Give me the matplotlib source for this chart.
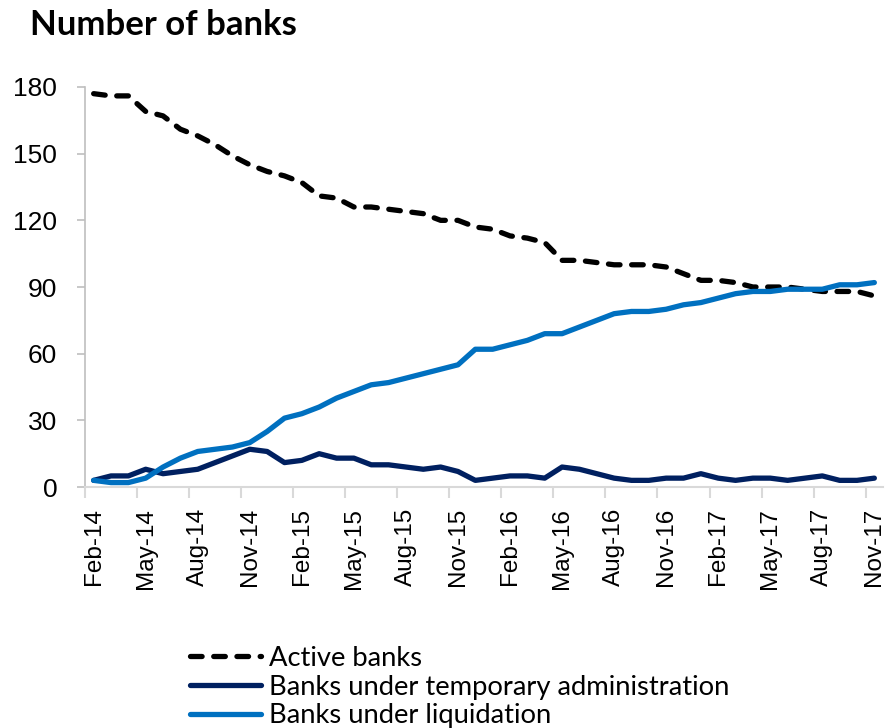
import matplotlib
matplotlib.use("Agg")
import matplotlib.pyplot as plt
import numpy as np

# Monthly series, Feb-14 .. Nov-17
months = ["Feb-14", "Mar-14", "Apr-14", "May-14", "Jun-14", "Jul-14", "Aug-14", "Sep-14",
          "Oct-14", "Nov-14", "Dec-14", "Jan-15", "Feb-15", "Mar-15", "Apr-15", "May-15",
          "Jun-15", "Jul-15", "Aug-15", "Sep-15", "Oct-15", "Nov-15", "Dec-15", "Jan-16",
          "Feb-16", "Mar-16", "Apr-16", "May-16", "Jun-16", "Jul-16", "Aug-16", "Sep-16",
          "Oct-16", "Nov-16", "Dec-16", "Jan-17", "Feb-17", "Mar-17", "Apr-17", "May-17",
          "Jun-17", "Jul-17", "Aug-17", "Sep-17", "Oct-17", "Nov-17"]

active = [177, 176, 176, 169, 167, 161, 158, 154, 149, 145, 142, 140, 137, 131, 130, 126,
          126, 125, 124, 123, 120, 120, 117, 116, 113, 112, 110, 102, 102, 101, 100, 100,
          100, 99, 96, 93, 93, 92, 90, 90, 90, 89, 88, 88, 88, 86]

temp_admin = [3, 5, 5, 8, 6, 7, 8, 11, 14, 17, 16, 11, 12, 15, 13, 13,
              10, 10, 9, 8, 9, 7, 3, 4, 5, 5, 4, 9, 8, 6, 4, 3,
              3, 4, 4, 6, 4, 3, 4, 4, 3, 4, 5, 3, 3, 4]

liquidation = [3, 2, 2, 4, 9, 13, 16, 17, 18, 20, 25, 31, 33, 36, 40, 43,
               46, 47, 49, 51, 53, 55, 62, 62, 64, 66, 69, 69, 72, 75, 78, 79,
               79, 80, 82, 83, 85, 87, 88, 88, 89, 89, 89, 91, 91, 92]

labels = ["Active banks", "Banks under temporary administration", "Banks under liquidation"]
colors = ["#000000", "#002060", "#0070C0"]

plt.rcParams['font.family'] = ['Lato', 'DejaVu Sans']

fig = plt.figure(figsize=(8.88, 7.28), dpi=100)
ax = fig.add_axes([0.0957, 0.331, 0.8987, 0.5495])

x = np.arange(len(months))
lw = 3.8
ax.plot(x, active, color=colors[0], lw=lw, ls=(0, (2.2, 2.2)),
        dash_capstyle='round', solid_joinstyle='round', label=labels[0])
ax.plot(x, temp_admin, color=colors[1], lw=lw, solid_capstyle='round',
        solid_joinstyle='round', label=labels[1])
ax.plot(x, liquidation, color=colors[2], lw=lw, solid_capstyle='round',
        solid_joinstyle='round', label=labels[2])

ax.set_xlim(-0.5, len(months) - 0.5)
ax.set_ylim(0, 180)
ax.set_yticks(np.arange(0, 181, 30))
ax.tick_params(axis='y', length=6, color='#BFBFBF', width=1.2, pad=14)
for t in ax.get_yticklabels():
    t.set_fontfamily('Liberation Sans')
    t.set_fontsize(19)

ax.set_xticks(x[::3])
ax.set_xticklabels(months[::3], rotation=90, fontsize=17.5, fontfamily='Liberation Sans')
ax.set_xticks(np.arange(-0.5, len(months), 3), minor=True)
ax.tick_params(axis='x', which='major', length=0, pad=15)
ax.tick_params(axis='x', which='minor', length=8, color='#D9D9D9', width=1.5)

for side in ['top', 'right']:
    ax.spines[side].set_visible(False)
ax.spines['left'].set_color('#BFBFBF')
ax.spines['left'].set_linewidth(1.2)
ax.spines['bottom'].set_color('#D9D9D9')
ax.spines['bottom'].set_linewidth(1.5)

fig.text(0.034, 0.988, "Number of banks", fontsize=25, fontweight='bold', va='top')

leg = fig.legend(loc='upper left', bbox_to_anchor=(0.214, 0.113), frameon=False,
                 fontsize=19.7, handlelength=2.6, handletextpad=0.3, labelspacing=0.14,
                 borderaxespad=0, borderpad=0)

fig.savefig("out.png", dpi=100)
